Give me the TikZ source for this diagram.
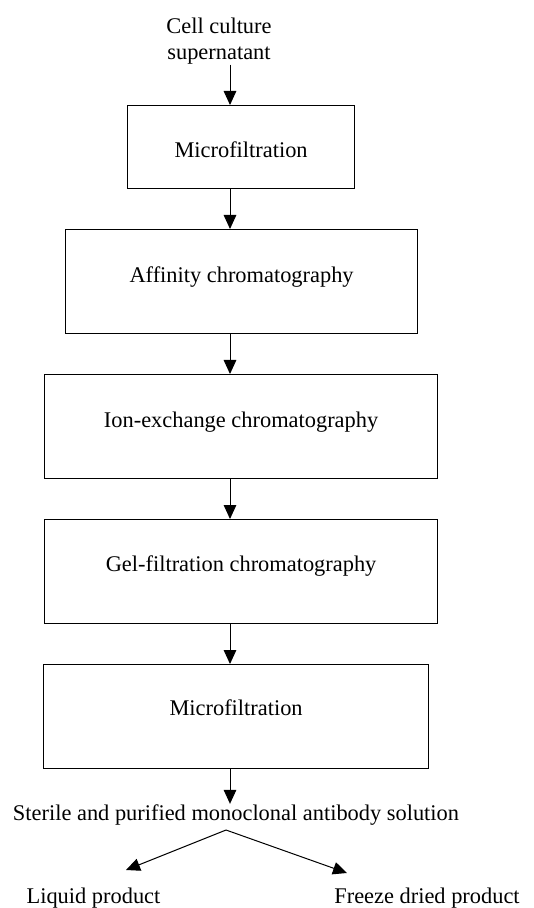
\documentclass[tikz,border=0pt]{standalone}
\usepackage{fontspec}
\setmainfont{Liberation Serif}
\usetikzlibrary{arrows.meta}

\tikzset{
  stepbox/.style={draw=black, line width=0.6pt, inner sep=0pt, anchor=north west},
  flow/.style={-{Triangle[width=6.3pt,length=7pt]}, line width=0.5pt},
  plain/.style={inner sep=0pt}
}

\begin{document}
\begin{tikzpicture}[x=0.5pt,y=-0.5pt,font=\fontsize{11.2}{13}\selectfont]
	\useasboundingbox (0,0) rectangle (534,908);
	\coordinate (spine) at (230,0);

	% feed
	\node[plain, align=center] (feed) at (219,41) {Cell culture\\supernatant};

	% purification steps
	\node[stepbox, minimum width=113.5pt, text height=26pt, text depth=15.5pt] (mf1) at (127,105) {Microfiltration};
	\node[stepbox, minimum width=176pt, text height=26.5pt, text depth=25.5pt] (aff) at (65,229) {Affinity chromatography};
	\node[stepbox, minimum width=196.5pt, text height=26.5pt, text depth=25.5pt] (iex) at (44,374) {Ion-exchange chromatography};
	\node[stepbox, minimum width=196.5pt, text height=26pt, text depth=26pt] (gel) at (44,519) {Gel-filtration chromatography};
	\node[stepbox, minimum width=192.5pt, text height=25.5pt, text depth=26.5pt] (mf2) at (43,664) {Microfiltration};

	\draw[flow] (feed.south -| spine) -- (mf1.north -| spine);
	\foreach \a/\b in {mf1/aff, aff/iex, iex/gel, gel/mf2}
		\draw[flow] (\a.south -| spine) -- (\b.north -| spine);

	% product
	\node[plain, anchor=base] (sol) at (236,820) {Sterile and purified monoclonal antibody solution};
	\draw[flow] (mf2.south -| spine) -- (sol.north -| spine);

	\coordinate (fork) at (226,830);
	\coordinate (liqtip) at (126,870);
	\coordinate (frztip) at (347,873);
	\draw[flow] (fork) -- (liqtip);
	\draw[flow] (fork) -- (frztip);
	\node[plain, anchor=base] (liq) at (93.5,903) {Liquid product};
	\node[plain, anchor=base] (frz) at (427,903) {Freeze dried product};
\end{tikzpicture}
\end{document}
